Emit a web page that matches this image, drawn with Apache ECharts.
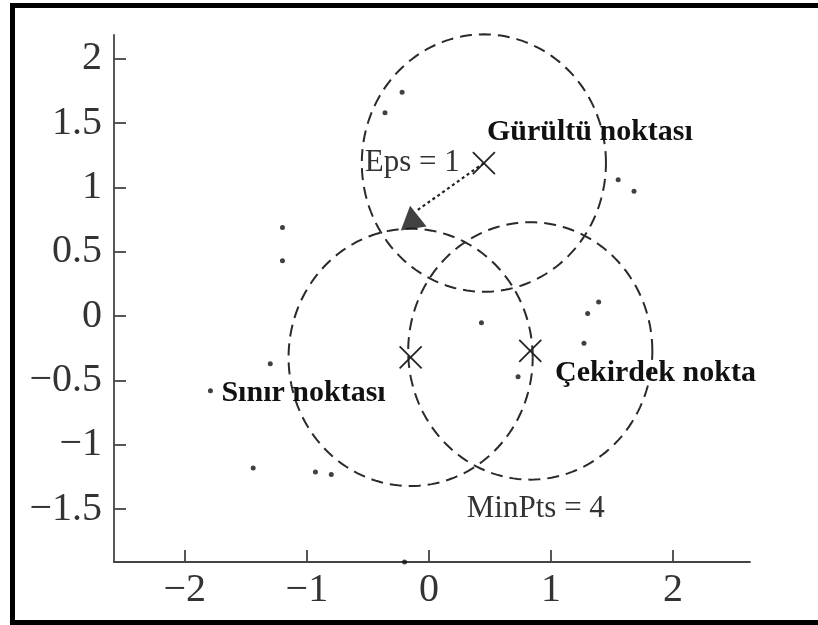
<!DOCTYPE html>
<html>
<head>
<meta charset="utf-8">
<script src="https://cdn.jsdelivr.net/npm/echarts@6/dist/echarts.min.js"></script>
<style>
  html, body { margin: 0; padding: 0; background: #fff; }
  #chart { width: 818px; height: 625px; }
</style>
</head>
<body>
<div id="chart"></div>
<script>
// Sample points of the data set
const dotsX = [-0.22, -0.36, -1.20, -1.20, 1.55, 1.68, 1.39, 1.30, 1.27, 0.43, 0.73, -1.30, -1.79, -1.44, -0.93, -0.80, -0.20];
const dotsY = [1.74, 1.58, 0.69, 0.43, 1.06, 0.97, 0.11, 0.02, -0.21, -0.05, -0.47, -0.37, -0.58, -1.18, -1.21, -1.23, -1.91];

// Neighbourhood centres (marked with a cross) and radius Eps
const centerX = [0.45, -0.15, 0.83];
const centerY = [1.19, -0.32, -0.27];
const eps = 1;

// Highlighted point (triangle) and the dotted radius line towards it
const trianglePoint = [-0.14, 0.77];
const radiusLine = [[0.45, 1.19], [-0.10, 0.82]];

// Annotations: text, left edge x, vertical centre y, bold flag
const noteText = ['Gürültü noktası', 'Eps = 1', 'Sınır noktası', 'Çekirdek nokta', 'MinPts = 4'];
const noteX = [0.475, -0.525, -1.70, 1.033, 0.31];
const noteY = [1.43, 1.19, -0.60, -0.44, -1.50];
const noteBold = [true, false, true, true, false];

// Axis tick values
const xTicks = [-2, -1, 0, 1, 2];
const yTicks = [-1.5, -1, -0.5, 0, 0.5, 1, 1.5, 2];

const fmt = v => (v < 0 ? '\u2212' + Math.abs(v) : String(v));
const serif = '"Liberation Serif", "Times New Roman", serif';

const axisCommon = {
  axisLine: { show: true, onZero: false, lineStyle: { color: '#444', width: 1.8 } },
  splitLine: { show: false },
  axisTick: { show: true, inside: true, length: 12, lineStyle: { color: '#444', width: 1.8 } },
};

const chart = echarts.init(document.getElementById('chart'), null, { renderer: 'canvas' });

chart.setOption({
  animation: false,
  backgroundColor: '#fff',
  grid: { left: 114, right: 68, top: 35, bottom: 63, containLabel: false },
  xAxis: Object.assign({}, axisCommon, {
    type: 'value', min: -2.58, max: 2.63,
    axisTick: Object.assign({}, axisCommon.axisTick, { customValues: xTicks }),
    axisLabel: { customValues: xTicks, formatter: fmt, margin: 8,
      fontFamily: serif, fontSize: 40, color: '#333' }
  }),
  yAxis: Object.assign({}, axisCommon, {
    type: 'value', min: -1.91, max: 2.185,
    axisTick: Object.assign({}, axisCommon.axisTick, { customValues: yTicks }),
    axisLabel: { customValues: yTicks, formatter: fmt, margin: 12,
      fontFamily: serif, fontSize: 40, color: '#333' }
  }),
  graphic: [{
    type: 'rect', silent: true,
    shape: { x: 12.5, y: 5.5, width: 830, height: 617 },
    style: { fill: 'none', stroke: '#000', lineWidth: 5 }
  }],
  series: [
    {
      // dashed Eps-neighbourhoods
      type: 'custom', clip: false,
      data: centerX.map((x, i) => [x, centerY[i], eps]),
      renderItem: (params, api) => {
        const cx = api.value(0), cy = api.value(1), r = api.value(2);
        const pts = [];
        const n = 180;
        for (let k = 0; k <= n; k++) {
          const a = (k / n) * Math.PI * 2;
          pts.push(api.coord([cx + r * Math.cos(a), cy + r * Math.sin(a)]));
        }
        return {
          type: 'polyline', silent: true,
          shape: { points: pts },
          style: { fill: null, stroke: '#2a2a2a', lineWidth: 2, lineDash: [12, 7] }
        };
      }
    },
    {
      // dotted radius line
      type: 'custom', clip: false,
      data: [[radiusLine[0][0], radiusLine[0][1], radiusLine[1][0], radiusLine[1][1]]],
      renderItem: (params, api) => {
        const p0 = api.coord([api.value(0), api.value(1)]);
        const p1 = api.coord([api.value(2), api.value(3)]);
        return {
          type: 'line', silent: true,
          shape: { x1: p0[0], y1: p0[1], x2: p1[0], y2: p1[1] },
          style: { stroke: '#222', lineWidth: 2.2, lineDash: [3, 3] }
        };
      }
    },
    {
      // data points
      type: 'scatter', clip: false,
      symbol: 'circle', symbolSize: 5,
      itemStyle: { color: '#111' },
      data: dotsX.map((x, i) => [x, dotsY[i]])
    },
    {
      // centre crosses
      type: 'custom', clip: false,
      data: centerX.map((x, i) => [x, centerY[i]]),
      renderItem: (params, api) => {
        const p = api.coord([api.value(0), api.value(1)]);
        const h = 11;
        const st = { stroke: '#222', lineWidth: 1.8 };
        return {
          type: 'group', silent: true,
          children: [
            { type: 'line', shape: { x1: p[0] - h, y1: p[1] - h, x2: p[0] + h, y2: p[1] + h }, style: st },
            { type: 'line', shape: { x1: p[0] - h, y1: p[1] + h, x2: p[0] + h, y2: p[1] - h }, style: st }
          ]
        };
      }
    },
    {
      // highlighted point
      type: 'scatter', clip: false,
      symbol: 'triangle', symbolSize: [26, 23], symbolRotate: 9,
      itemStyle: { color: '#111' },
      data: [trianglePoint]
    },
    {
      // annotations
      type: 'custom', clip: false,
      data: noteText.map((t, i) => [noteX[i], noteY[i], i]),
      renderItem: (params, api) => {
        const i = api.value(2);
        const p = api.coord([api.value(0), api.value(1)]);
        return {
          type: 'text', silent: true,
          x: p[0], y: p[1],
          style: {
            text: noteText[i],
            font: (noteBold[i] ? 'bold 30px ' : '31px ') + serif,
            fill: noteBold[i] ? '#111' : '#333',
            textAlign: 'left', textVerticalAlign: 'middle'
          }
        };
      }
    }
  ]
});
</script>
</body>
</html>
